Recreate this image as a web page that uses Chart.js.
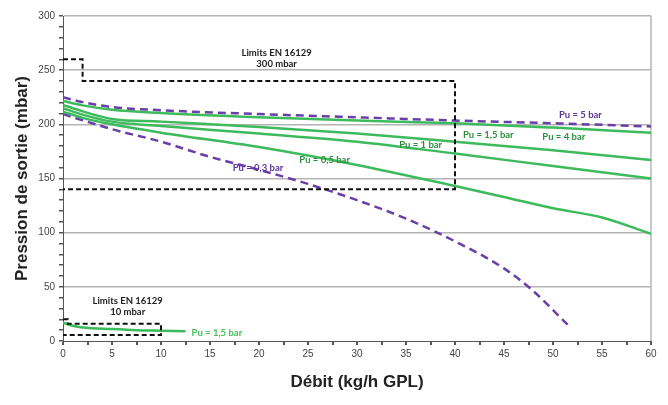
<!DOCTYPE html>
<html>
<head>
<meta charset="utf-8">
<script src="https://cdn.jsdelivr.net/npm/chart.js@4.4.1/dist/chart.umd.min.js"></script>
<style>
  body { margin: 0; background: #fff; }
  #wrap { width: 668px; height: 405px; }
</style>
</head>
<body>
<div id="wrap"><canvas id="pressureChart"></canvas></div>
<script>
// débit (kg/h) -> pression (mbar)
const pu5 = [[0, 225], [2, 220.5], [5, 216], [10, 213], [20, 209.5], [30, 206.5], [40, 203.5], [50, 201], [60, 198]];
const pu4 = [[0, 221.5], [2, 217.5], [5, 213.5], [10, 210.5], [20, 206.5], [30, 203.5], [40, 201], [50, 197], [60, 192.3]];
const pu15 = [[0, 218], [2, 212], [5, 205], [10, 202.5], [20, 197.5], [30, 191.5], [40, 184], [50, 176], [60, 167]];
const pu1 = [[0, 215], [2, 209], [5, 202.5], [10, 198.5], [20, 191.5], [30, 184], [40, 173], [50, 161.5], [60, 150]];
const pu05 = [[0, 211.7], [2, 206], [5, 200], [10, 192.3], [20, 179], [30, 162.5], [40, 143], [45, 133], [50, 122.5], [55, 114], [60, 99]];
const pu03 = [[0, 209.5], [5, 195.5], [10, 184], [15, 170], [20, 158], [25, 145], [30, 130], [35, 113], [40, 92], [45, 67], [48, 46], [51.5, 15]];
const pu15Low = [[0, 17], [1, 14], [2, 12.5], [5, 11], [7.5, 10], [10, 9.5], [12.5, 9]];

// limites EN 16129
const limit300 = [[0, 260], [2, 260], [2, 240], [40, 240], [40, 140], [0, 140]];
const limit10 = [[0, 20], [0.5, 20], [0.5, 16], [10, 16], [10, 5.5], [0, 5.5]];

// étiquettes : texte, x, y, couleur
const notes = [
  ['Limits EN 16129', 21.8, 266, '#222'],
  ['300 mbar', 21.8, 255.7, '#222'],
  ['Pu = 5 bar', 52.8, 208.6, '#5a3496'],
  ['Pu = 1,5 bar', 43.4, 190, '#2d8f42'],
  ['Pu = 4 bar', 51.1, 188.6, '#2d8f42'],
  ['Pu = 1 bar', 36.5, 181, '#2d8f42'],
  ['Pu = 0,5 bar', 26.7, 167, '#2d8f42'],
  ['Pu = 0,3 bar', 19.9, 160, '#5a3496'],
  ['Limits EN 16129', 6.6, 37.2, '#222'],
  ['10 mbar', 6.6, 27, '#222'],
  ['Pu = 1,5 bar', 15.7, 7.4, '#45c05a']
];

const green = '#3dba5b';
const purple = '#6a3fa8';

const pts = arr => arr.map(p => ({ x: p[0], y: p[1] }));

const curve = (data, color, dashed) => ({
  data: pts(data),
  showLine: true,
  borderColor: color,
  borderWidth: 2.5,
  borderDash: dashed ? [8, 5] : [],
  pointRadius: 0,
  cubicInterpolationMode: 'monotone',
  fill: false
});

const box = data => ({
  data: pts(data),
  showLine: true,
  borderColor: '#111',
  borderWidth: 2,
  borderDash: [5, 3],
  pointRadius: 0,
  tension: 0,
  fill: false
});

const notePlugin = {
  id: 'notes',
  afterDatasetsDraw(chart) {
    const { ctx, scales: { x, y } } = chart;
    ctx.save();
    ctx.font = 'bold 9.5px Lato, "Open Sans", sans-serif';
    ctx.textAlign = 'center';
    ctx.textBaseline = 'middle';
    notes.forEach(n => {
      ctx.fillStyle = n[3];
      ctx.fillText(n[0], x.getPixelForValue(n[1]), y.getPixelForValue(n[2]));
    });
    ctx.restore();
  }
};

new Chart(document.getElementById('pressureChart'), {
  type: 'scatter',
  data: {
    datasets: [
      box(limit300),
      box(limit10),
      curve(pu5, purple, true),
      curve(pu4, green, false),
      curve(pu15, green, false),
      curve(pu1, green, false),
      curve(pu05, green, false),
      curve(pu03, purple, true),
      curve(pu15Low, green, false)
    ]
  },
  options: {
    responsive: true,
    maintainAspectRatio: false,
    animation: false,
    layout: { padding: { top: 16, right: 17, left: 0, bottom: 0 } },
    plugins: { legend: { display: false }, tooltip: { enabled: false } },
    scales: {
      x: {
        type: 'linear',
        min: 0,
        max: 60,
        afterFit(s) { s.height = 64; s.paddingLeft = 0; s.paddingRight = 0; },
        ticks: {
          stepSize: 2.5,
          autoSkip: false,
          maxRotation: 0,
          padding: 3,
          color: '#444',
          font: { family: 'Liberation Sans, Arial, sans-serif', size: 10 },
          callback: v => (v % 5 === 0 ? v : '')
        },
        grid: {
          color: c => (c.tick && c.tick.value === 60 ? '#c8c8c8' : 'transparent'),
          lineWidth: 2,
          tickColor: '#555',
          tickLength: 4
        },
        border: { color: '#555', width: 1 },
        title: {
          display: true,
          text: 'Débit (kg/h GPL)',
          color: '#222',
          font: { family: 'Liberation Sans, Arial, sans-serif', size: 17, weight: 'bold' },
          padding: { top: 0, bottom: 12 }
        }
      },
      y: {
        min: 0,
        max: 300,
        afterFit(s) { s.width = 63; s.paddingTop = 0; s.paddingBottom = 0; },
        ticks: {
          stepSize: 10,
          autoSkip: false,
          padding: 4,
          color: '#444',
          font: { family: 'Liberation Sans, Arial, sans-serif', size: 10 },
          callback: v => (v % 50 === 0 ? v : '')
        },
        grid: {
          color: c => (c.tick && c.tick.value % 50 === 0 && c.tick.value > 0 ? '#b4b4b4' : 'transparent'),
          lineWidth: 1.5,
          tickColor: '#555',
          tickLength: 4
        },
        border: { color: '#555', width: 1 },
        title: {
          display: true,
          text: 'Pression de sortie (mbar)',
          color: '#222',
          font: { family: 'Liberation Sans, Arial, sans-serif', size: 17, weight: 'bold' },
          padding: { top: 12, bottom: 0 }
        }
      }
    }
  },
  plugins: [notePlugin]
});
</script>
</body>
</html>
